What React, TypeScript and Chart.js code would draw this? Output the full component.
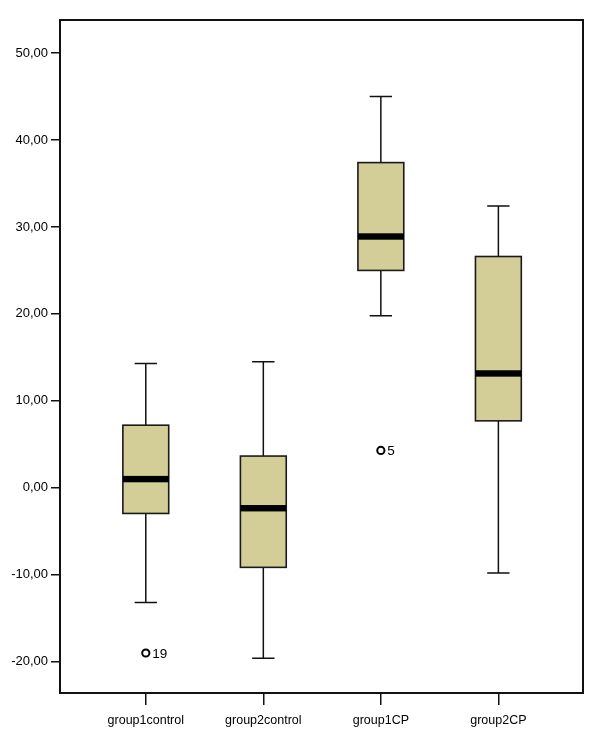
import React, { useEffect, useRef } from 'react';
import { Chart, registerables } from 'chart.js';

Chart.register(...registerables);

const categories = ['group1control', 'group2control', 'group1CP', 'group2CP'];
const whiskerLow = [-13.2, -19.6, 19.8, -9.8];
const q1 = [-2.95, -9.15, 25.0, 7.7];
const median = [1.0, -2.35, 28.9, 13.15];
const q3 = [7.2, 3.65, 37.4, 26.6];
const whiskerHigh = [14.3, 14.5, 45.0, 32.4];
const outlierCategory = [0, 2];
const outlierValue = [-19.0, 4.3];
const outlierLabel = ['19', '5'];
const yTicks = [-20, -10, 0, 10, 20, 30, 40, 50];

const FONT = '"Liberation Sans", Arial, Helvetica, sans-serif';
const BOX_FILL = '#D3CE98';

const boxPlugin = {
  id: 'boxPlugin',
  beforeDatasetsDraw(chart: any) {
    const { ctx, scales, chartArea } = chart;
    const xs = scales.x;
    const ys = scales.y;
    ctx.save();
    ctx.beginPath();
    ctx.rect(chartArea.left, chartArea.top, chartArea.right - chartArea.left, chartArea.bottom - chartArea.top);
    ctx.clip();
    for (let i = 0; i < categories.length; i++) {
      const xc = xs.getPixelForValue(i);
      const half = xs.getPixelForValue(i + 0.195) - xc;
      const capHalf = xs.getPixelForValue(i + 0.095) - xc;
      const yLow = ys.getPixelForValue(whiskerLow[i]);
      const yHigh = ys.getPixelForValue(whiskerHigh[i]);
      const yQ1 = ys.getPixelForValue(q1[i]);
      const yQ3 = ys.getPixelForValue(q3[i]);
      const yMed = ys.getPixelForValue(median[i]);
      ctx.strokeStyle = '#111';
      ctx.lineWidth = 1.5;
      ctx.beginPath();
      ctx.moveTo(xc, yLow);
      ctx.lineTo(xc, yHigh);
      ctx.moveTo(xc - capHalf, yLow);
      ctx.lineTo(xc + capHalf, yLow);
      ctx.moveTo(xc - capHalf, yHigh);
      ctx.lineTo(xc + capHalf, yHigh);
      ctx.stroke();
      ctx.fillStyle = BOX_FILL;
      ctx.fillRect(xc - half, yQ3, 2 * half, yQ1 - yQ3);
      ctx.lineWidth = 1.6;
      ctx.strokeStyle = '#1a1a1a';
      ctx.strokeRect(xc - half, yQ3, 2 * half, yQ1 - yQ3);
      ctx.fillStyle = '#000';
      ctx.fillRect(xc - half, yMed - 3.2, 2 * half, 6.4);
    }
    ctx.restore();
  },
  afterDatasetsDraw(chart: any) {
    const { ctx, scales, chartArea } = chart;
    const xs = scales.x;
    const ys = scales.y;
    ctx.save();
    ctx.fillStyle = '#000';
    ctx.font = `13.5px ${FONT}`;
    ctx.textAlign = 'left';
    ctx.textBaseline = 'middle';
    for (let i = 0; i < outlierLabel.length; i++) {
      const px = xs.getPixelForValue(outlierCategory[i]);
      const py = ys.getPixelForValue(outlierValue[i]);
      ctx.fillText(outlierLabel[i], px + 6.5, py + 1);
    }
    ctx.strokeStyle = '#111';
    ctx.lineWidth = 2;
    ctx.strokeRect(chartArea.left, chartArea.top, chartArea.right - chartArea.left, chartArea.bottom - chartArea.top);
    ctx.restore();
  },
};

export default function App() {
  const ref = useRef<HTMLCanvasElement | null>(null);
  useEffect(() => {
    if (!ref.current) return;
    const chart = new Chart(ref.current, {
      type: 'scatter',
      data: {
        datasets: [
          {
            data: outlierCategory.map((c, i) => ({ x: c, y: outlierValue[i] })),
            pointStyle: 'circle',
            pointRadius: 3.6,
            pointBorderWidth: 2,
            borderColor: '#000',
            backgroundColor: '#fff',
            pointBackgroundColor: '#fff',
            pointBorderColor: '#000',
          },
        ],
      },
      options: {
        responsive: false,
        animation: false,
        events: [],
        layout: { padding: { left: 0, top: 20, right: 17, bottom: 0 } },
        plugins: { legend: { display: false }, tooltip: { enabled: false } },
        scales: {
          x: {
            type: 'linear',
            min: -0.73,
            max: 3.72,
            afterBuildTicks: (axis: any) => {
              axis.ticks = categories.map((_, i) => ({ value: i }));
            },
            afterFit: (axis: any) => {
              axis.height = 51;
            },
            grid: {
              drawOnChartArea: false,
              drawTicks: true,
              tickLength: 12,
              color: '#111',
              lineWidth: 1.5,
            },
            border: { display: false },
            ticks: {
              autoSkip: false,
              maxRotation: 0,
              padding: 8,
              color: '#000',
              font: { family: FONT, size: 12.5 },
              callback: (v: any) => categories[Math.round(Number(v))] ?? '',
            },
          },
          y: {
            type: 'linear',
            min: -23.6,
            max: 53.8,
            afterBuildTicks: (axis: any) => {
              axis.ticks = yTicks.map((v) => ({ value: v }));
            },
            afterFit: (axis: any) => {
              axis.width = 60;
            },
            grid: {
              drawOnChartArea: false,
              drawTicks: true,
              tickLength: 9,
              color: '#111',
              lineWidth: 1.5,
            },
            border: { display: false },
            ticks: {
              padding: 3,
              color: '#000',
              font: { family: FONT, size: 13 },
              callback: (v: any) => Number(v).toFixed(2).replace('.', ','),
            },
          },
        },
      },
      plugins: [boxPlugin],
    });
    return () => chart.destroy();
  }, []);
  return (
    <div style={{ position: 'fixed', left: 0, top: 0, width: 600, height: 744, background: '#fff' }}>
      <canvas ref={ref} width={600} height={744} style={{ display: 'block' }} />
    </div>
  );
}
